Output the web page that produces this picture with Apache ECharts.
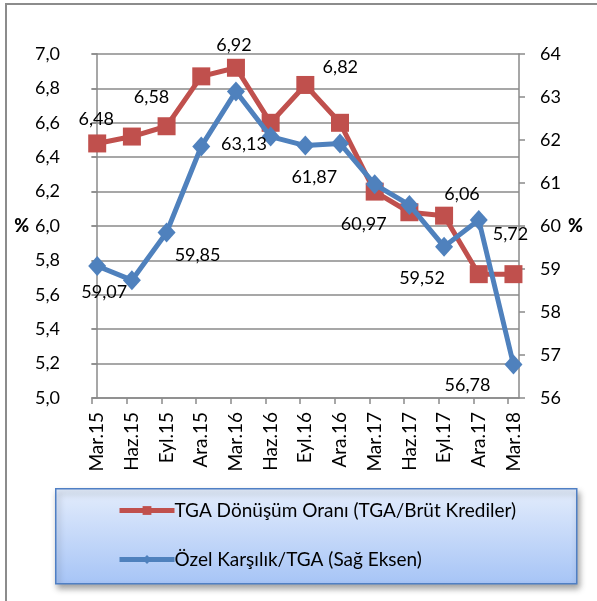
<!DOCTYPE html>
<html>
<head>
<meta charset="utf-8">
<script src="https://cdn.jsdelivr.net/npm/echarts@6/dist/echarts.min.js"></script>
<style>
  html, body { margin: 0; padding: 0; background: #fff; }
  #chart { width: 597px; height: 601px; }
</style>
</head>
<body>
<div id="chart"></div>
<script>
// Quarterly periods
var categories = ['Mar.15', 'Haz.15', 'Eyl.15', 'Ara.15', 'Mar.16', 'Haz.16', 'Eyl.16',
                  'Ara.16', 'Mar.17', 'Haz.17', 'Eyl.17', 'Ara.17', 'Mar.18'];

// TGA Dönüşüm Oranı (TGA/Brüt Krediler), left axis, %
var tgaRatio = [6.48, 6.52, 6.58, 6.87, 6.92, 6.60, 6.82, 6.60, 6.20, 6.08, 6.06, 5.72, 5.72];

// Özel Karşılık/TGA, right axis, %
var provisionRatio = [59.07, 58.74, 59.85, 61.85, 63.13, 62.08, 61.87, 61.92, 60.97, 60.49, 59.52, 60.14, 56.78];

// Left axis ticks
var leftTicks = { min: 5.0, max: 7.0, step: 0.2 };
// Right axis ticks
var rightTicks = { min: 56, max: 64, step: 1 };

// Which points carry a value label, with the label's pixel offset from the marker
var tgaLabelOffsets = { 0: [-1, -24], 2: [-15, -29], 4: [-2, -23], 6: [35, -18], 10: [18, -21], 12: [-3, -40] };
var provLabelOffsets = { 0: [7, 26], 2: [31, 23], 4: [8, 53], 6: [9, 32], 8: [-11, 40], 10: [-22, 32], 12: [-46, 21] };

var FONT = 'Lato';
var RED = '#C0504D';
var BLUE = '#4F81BD';
var GRID = '#8a8a8a';

function fmt(v, d) { return v.toFixed(d).replace('.', ','); }

function buildData(values, offsets) {
  return values.map(function (v, i) {
    var item = { value: [i, v] };
    if (offsets[i]) {
      item.label = {
        show: true,
        position: 'inside',
        offset: offsets[i],
        formatter: function () { return fmt(v, 2); },
        color: '#000',
        fontFamily: FONT,
        fontSize: 18
      };
    }
    return item;
  });
}

var chart = echarts.init(document.getElementById('chart'), null, { renderer: 'canvas' });

chart.setOption({
  backgroundColor: '#fff',
  animation: false,
  textStyle: { fontFamily: FONT },
  grid: { left: 92, top: 54, width: 427, height: 344, containLabel: false },
  graphic: [
    // outer frame (top and left edges)
    { type: 'polyline', shape: { points: [[6, 601], [6, 4], [597, 4]] },
      style: { stroke: '#8c8c8c', lineWidth: 2, fill: null }, z: 0 },
    // legend panel
    { type: 'rect', left: 55, top: 488, shape: { width: 521, height: 95 },
      style: {
        fill: new echarts.graphic.LinearGradient(0, 0, 0, 1, [
          { offset: 0, color: '#e4edfc' },
          { offset: 1, color: '#a6c4f6' }
        ]),
        stroke: '#4f7fc4', lineWidth: 1.5,
        shadowBlur: 6, shadowOffsetX: 2, shadowOffsetY: 4, shadowColor: 'rgba(0,0,0,0.35)'
      }, z: 0 }
  ],
  legend: {
    orient: 'vertical',
    left: 112,
    top: 496,
    itemWidth: 55,
    itemHeight: 11,
    itemGap: 30,
    lineStyle: { width: 5 },
    textStyle: { fontFamily: FONT, fontSize: 19, color: '#000', padding: [0, 0, 0, -5] },
    data: ['TGA Dönüşüm Oranı (TGA/Brüt Krediler)', 'Özel Karşılık/TGA (Sağ Eksen)'],
    z: 5
  },
  xAxis: {
    type: 'value',
    min: -0.15,
    max: 12.16,
    axisLine: { show: true, onZero: false, lineStyle: { color: GRID, width: 1.5 } },
    axisTick: { show: true, length: 6, lineStyle: { color: GRID, width: 1.5 },
      customValues: categories.map(function (_, i) { return i - 0.15; }) },
    axisLabel: {
      rotate: 90, margin: 14, color: '#000', fontFamily: FONT, fontSize: 19,
      customValues: categories.map(function (_, i) { return i; }),
      formatter: function (v) { return categories[Math.round(v)]; }
    },
    splitLine: { show: false }
  },
  yAxis: [
    {
      type: 'value',
      position: 'left',
      min: leftTicks.min, max: leftTicks.max, interval: leftTicks.step,
      name: '%', nameLocation: 'middle', nameRotate: 0, nameGap: 60,
      nameTextStyle: { fontFamily: FONT, fontSize: 18, fontWeight: 900, color: '#000', padding: [0, 0, 22, 0] },
      axisLine: { show: true, lineStyle: { color: GRID, width: 1.5 } },
      axisTick: { show: true, length: 6, lineStyle: { color: GRID, width: 1.5 } },
      axisLabel: { margin: 32, color: '#000', fontFamily: FONT, fontSize: 18,
        formatter: function (v) { return fmt(v, 1); } },
      splitLine: { show: true, lineStyle: { color: GRID, width: 1.5 } }
    },
    {
      type: 'value',
      position: 'right',
      min: rightTicks.min, max: rightTicks.max, interval: rightTicks.step,
      name: '%', nameLocation: 'middle', nameRotate: 0, nameGap: 49,
      nameTextStyle: { fontFamily: FONT, fontSize: 18, fontWeight: 900, color: '#000', padding: [0, 0, 4, 0] },
      axisLine: { show: true, lineStyle: { color: GRID, width: 1.5 } },
      axisTick: { show: true, length: 6, lineStyle: { color: GRID, width: 1.5 } },
      axisLabel: { margin: 21, color: '#000', fontFamily: FONT, fontSize: 18 },
      splitLine: { show: false }
    }
  ],
  series: [
    {
      name: 'TGA Dönüşüm Oranı (TGA/Brüt Krediler)',
      type: 'line',
      yAxisIndex: 0,
      data: buildData(tgaRatio, tgaLabelOffsets),
      symbol: 'rect',
      symbolSize: 18,
      itemStyle: { color: RED },
      lineStyle: { color: RED, width: 5 },
      z: 3
    },
    {
      name: 'Özel Karşılık/TGA (Sağ Eksen)',
      type: 'line',
      yAxisIndex: 1,
      data: buildData(provisionRatio, provLabelOffsets),
      symbol: 'diamond',
      symbolSize: [18, 20],
      itemStyle: { color: BLUE },
      lineStyle: { color: BLUE, width: 5 },
      z: 4
    }
  ]
});
</script>
</body>
</html>
